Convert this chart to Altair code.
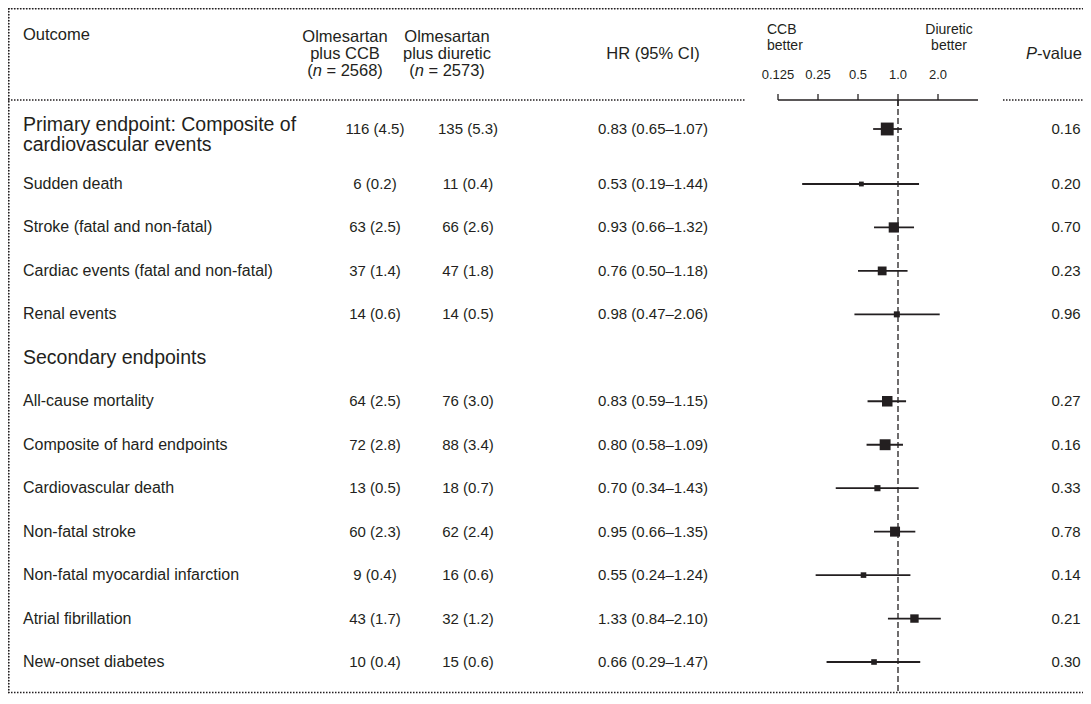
import altair as alt
import pandas as pd

# ---------------- data ----------------
outcomes = [
    "Primary endpoint: Composite of\ncardiovascular events",
    "Sudden death",
    "Stroke (fatal and non-fatal)",
    "Cardiac events (fatal and non-fatal)",
    "Renal events",
    "Secondary endpoints",
    "All-cause mortality",
    "Composite of hard endpoints",
    "Cardiovascular death",
    "Non-fatal stroke",
    "Non-fatal myocardial infarction",
    "Atrial fibrillation",
    "New-onset diabetes",
]
is_section = [True, False, False, False, False, True, False, False, False, False, False, False, False]
ccb = ["116 (4.5)", "6 (0.2)", "63 (2.5)", "37 (1.4)", "14 (0.6)", "", "64 (2.5)", "72 (2.8)",
       "13 (0.5)", "60 (2.3)", "9 (0.4)", "43 (1.7)", "10 (0.4)"]
diuretic = ["135 (5.3)", "11 (0.4)", "66 (2.6)", "47 (1.8)", "14 (0.5)", "", "76 (3.0)", "88 (3.4)",
            "18 (0.7)", "62 (2.4)", "16 (0.6)", "32 (1.2)", "15 (0.6)"]
hr = [0.83, 0.53, 0.93, 0.76, 0.98, None, 0.83, 0.80, 0.70, 0.95, 0.55, 1.33, 0.66]
hr_lo = [0.65, 0.19, 0.66, 0.50, 0.47, None, 0.59, 0.58, 0.34, 0.66, 0.24, 0.84, 0.29]
hr_hi = [1.07, 1.44, 1.32, 1.18, 2.06, None, 1.15, 1.09, 1.43, 1.35, 1.24, 2.10, 1.47]
p_values = ["0.16", "0.20", "0.70", "0.23", "0.96", "", "0.27", "0.16", "0.33", "0.78", "0.14", "0.21", "0.30"]

tick_values = [0.125, 0.25, 0.5, 1.0, 2.0]
tick_labels = ["0.125", "0.25", "0.5", "1.0", "2.0"]
axis_extent = [0.125, 4.0]
reference_hr = [1.0]

header_outcome = "Outcome"
header_ccb = ["Olmesartan", "plus CCB", "2568"]
header_diu = ["Olmesartan", "plus diuretic", "2573"]
header_hr = "HR (95% CI)"
header_left = ["CCB", "better"]
header_right = ["Diuretic", "better"]
header_p = ["P", "-value"]

# ---------------- tables ----------------
rows = pd.DataFrame({
    "outcome": outcomes, "section": is_section, "ccb": ccb, "diu": diuretic,
    "hr": hr, "lo": hr_lo, "hi": hr_hi, "p": p_values,
})
rows["row"] = range(len(rows))


def fmt_hr(h, l, u):
    if h is None or pd.isna(h):
        return ""
    return f"{h:.2f} ({l:.2f}\u2013{u:.2f})"


rows["hr_text"] = [fmt_hr(h, l, u) for h, l, u in zip(hr, hr_lo, hr_hi)]
forest = rows.dropna(subset=["hr"])
ticks = pd.DataFrame({"t": tick_values, "label": tick_labels})
extent = pd.DataFrame({"a": [axis_extent[0]], "b": [axis_extent[1]]})
ref = pd.DataFrame({"x": reference_hr})
dummy = pd.DataFrame({"k": [0]})

# ---------------- style ----------------
W, H = 1075, 686
INK = "#231f20"
FONT = "Liberation Sans"
# piecewise row scale: the two-line primary row takes a little more room
yscale = alt.Scale(domain=[0, 1, 12], range=[121, 176, 654])
xscale = alt.Scale(type="log", domain=[0.125, 4], range=[770, 970])
Y = alt.Y("row:Q", scale=yscale, axis=None)

# approximate Arial advance widths (per 1000 em) for placing mixed-style text
AW = {"(": 333, ")": 333, "n": 556, " ": 278, "=": 584, "P": 667, "-": 333, "v": 500,
      "a": 556, "l": 222, "u": 556, "e": 556}
for d in "0123456789":
    AW[d] = 556


def tw(s, size):
    return sum(AW.get(c, 556) for c in s) * size / 1000.0


def txt(text, x, y, size=16.5, align="left", style="normal", baseline="middle"):
    return alt.Chart(pd.DataFrame({"t": [text]})).mark_text(
        align=align, baseline=baseline, font=FONT, fontSize=size, color=INK, fontStyle=style
    ).encode(x=alt.value(x), y=alt.value(y), text="t:N")


def n_header(cx, y, num, size=16.5):
    full = "(n = " + num + ")"
    x0 = cx - tw(full, size) / 2
    x1 = x0 + tw("(", size)
    x2 = x1 + tw("n ", size)
    return [txt("(", x0, y, size), txt("n", x1, y, size, style="italic"),
            txt("= " + num + ")", x2, y, size)]


def drule(x=None, x2=None, y=None, y2=None, dash=(1.5, 1.5), width=1.6):
    enc = {}
    if x is not None:
        enc["x"] = alt.value(x)
    if x2 is not None:
        enc["x2"] = alt.value(x2)
    if y is not None:
        enc["y"] = alt.value(y)
    if y2 is not None:
        enc["y2"] = alt.value(y2)
    return alt.Chart(dummy).mark_rule(color=INK, strokeWidth=width, strokeDash=list(dash)).encode(**enc)


# ---------------- layers ----------------
layers = []

# frame and header separators (dotted)
layers += [
    drule(x=0, x2=W, y=0.8),
    drule(x=0.8, y=0, y2=H - 1),
    drule(x=0, x2=W, y=H - 1.5),
    drule(x=0, x2=737, y=92),
    drule(x=995, x2=W, y=92),
]

# header texts
layers.append(txt(header_outcome, 15, 27, 16.5))
for cx, hdr in [(337, header_ccb), (439, header_diu)]:
    layers.append(txt(hdr[0], cx, 29, 16.5, align="center"))
    layers.append(txt(hdr[1], cx, 46, 16.5, align="center"))
    layers += n_header(cx, 63, hdr[2], 16.5)
layers.append(txt(header_hr, 645, 46, 16.5, align="center"))
layers.append(txt(header_left[0], 759, 22, 14, align="left"))
layers.append(txt(header_left[1], 759, 38, 14, align="left"))
layers.append(txt(header_right[0], 941, 22, 14, align="center"))
layers.append(txt(header_right[1], 941, 38, 14, align="center"))
pw = tw("P-value", 16.5)
px0 = 1046 - pw / 2
layers.append(txt(header_p[0], px0, 46, 16.5, style="italic"))
layers.append(txt(header_p[1], px0 + tw("P", 16.5), 46, 16.5))

# forest axis
X = lambda f: alt.X(f, scale=xscale, axis=None)
layers.append(alt.Chart(extent).mark_rule(color=INK, strokeWidth=1.3).encode(
    x=X("a:Q"), x2="b:Q", y=alt.value(92)))
layers.append(alt.Chart(ticks).mark_rule(color=INK, strokeWidth=1.3).encode(
    x=X("t:Q"), y=alt.value(86), y2=alt.value(92)))
layers.append(alt.Chart(ticks).transform_filter("datum.t == 1").mark_rule(color=INK, strokeWidth=1.3).encode(
    x=X("t:Q"), y=alt.value(92), y2=alt.value(98)))
layers.append(alt.Chart(ticks).mark_text(font=FONT, fontSize=13, color=INK, baseline="middle").encode(
    x=X("t:Q"), y=alt.value(67), text="label:N"))

# reference line at HR = 1
layers.append(alt.Chart(ref).mark_rule(color=INK, strokeWidth=1.3, strokeDash=[6, 3]).encode(
    x=X("x:Q"), y=alt.value(92), y2=alt.value(H - 1.5)))

# outcome labels
layers.append(alt.Chart(rows).transform_filter("!datum.section").mark_text(
    align="left", baseline="middle", font=FONT, fontSize=16, color=INK).encode(
    x=alt.value(15), y=Y, text="outcome:N"))
layers.append(alt.Chart(rows).transform_filter("datum.section && datum.row == 0").mark_text(
    align="left", baseline="middle", font=FONT, fontSize=19.5, color=INK, lineBreak="\n",
    lineHeight=20, dy=-4).encode(
    x=alt.value(15), y=Y, text="outcome:N"))
layers.append(alt.Chart(rows).transform_filter("datum.section && datum.row > 0").mark_text(
    align="left", baseline="middle", font=FONT, fontSize=19.5, color=INK).encode(
    x=alt.value(15), y=Y, text="outcome:N"))

# value columns
for field, cx in [("ccb", 367), ("diu", 460), ("hr_text", 645), ("p", 1058)]:
    layers.append(alt.Chart(rows).mark_text(
        align="center", baseline="middle", font=FONT, fontSize=15, color=INK).encode(
        x=alt.value(cx), y=Y, text=f"{field}:N"))

# confidence intervals and point estimates (square area from inverse-variance weight)
layers.append(alt.Chart(forest).mark_rule(color=INK, strokeWidth=1.8).encode(
    x=X("lo:Q"), x2="hi:Q", y=Y))
layers.append(alt.Chart(forest).transform_calculate(
    w="1 / pow(log(datum.hi / datum.lo), 2)").mark_square(
    color=INK, opacity=1, filled=True).encode(
    x=X("hr:Q"), y=Y,
    size=alt.Size("w:Q", scale=alt.Scale(type="pow", exponent=0.7, domain=[0, 4], range=[0, 165]),
                  legend=None)))

chart = alt.layer(*layers).properties(
    width=W, height=H, autosize=alt.AutoSizeParams(type="none"), padding=0
).configure_view(stroke=None).configure(background="white")

chart.save("out.html", embed_options={"renderer": "svg", "actions": False})
